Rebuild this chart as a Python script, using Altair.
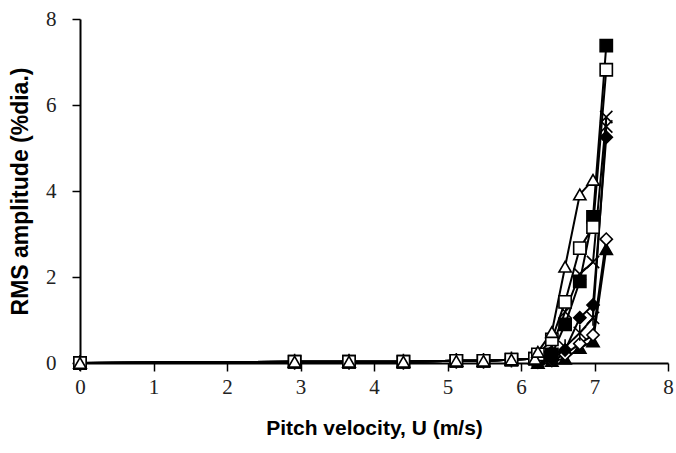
import altair as alt
import pandas as pd

# Shared low-speed test points
x_low = [0, 2.92, 3.66, 4.40, 5.12, 5.49, 5.87, 6.19]
y_low = [0.0, 0.03, 0.03, 0.03, 0.05, 0.05, 0.08, 0.10]

# High-speed points
x_high = [6.23, 6.42, 6.60, 6.80, 6.98, 7.16]

series_names = ["tri_filled", "dia_open", "star", "dia_filled", "cross_x", "sq_filled", "sq_open", "tri_open"]

y_tri_filled = [0.00, 0.05, 0.10, 0.35, 0.50, 2.65]
y_dia_open = [0.02, 0.06, 0.20, 0.45, 0.65, 2.88]
y_star = [0.05, 0.15, 0.37, 0.70, 1.05, 5.50]
y_dia_filled = [0.05, 0.10, 0.30, 1.05, 1.35, 5.25]
y_cross_x = [0.15, 0.38, 1.19, 2.07, 2.35, 5.72]
y_sq_filled = [0.10, 0.20, 0.90, 1.90, 3.40, 7.38]
y_sq_open = [0.20, 0.55, 1.42, 2.67, 3.16, 6.82]
y_tri_open = [0.26, 0.72, 2.24, 3.92, 4.26]

high_values = {
    "tri_filled": y_tri_filled,
    "dia_open": y_dia_open,
    "star": y_star,
    "dia_filled": y_dia_filled,
    "cross_x": y_cross_x,
    "sq_filled": y_sq_filled,
    "sq_open": y_sq_open,
    "tri_open": y_tri_open,
}

rows = []
for order, name in enumerate(series_names):
    for xv, yv in zip(x_low, y_low):
        rows.append({"series": name, "x": xv, "y": yv, "ord": order})
    for xv, yv in zip(x_high, high_values[name]):
        rows.append({"series": name, "x": xv, "y": yv, "ord": order})
df = pd.DataFrame(rows)

X_PATH = "M-1,-1L1,1M-1,1L1,-1"
STAR_PATH = "M-1,-1L1,1M-1,1L1,-1M0,-1.3L0,1.3"

shape_range = ["triangle-up", "diamond", STAR_PATH, "diamond", X_PATH, "square", "square", "triangle-up"]
fill_range = ["black", "white", "black", "black", "black", "black", "white", "white"]
size_range = [150, 150, 190, 150, 190, 100, 100, 150]

xscale = alt.Scale(domain=[0, 8], nice=False)
yscale = alt.Scale(domain=[0, 8], nice=False)

base = alt.Chart(df)

lines = base.mark_line(color="black", strokeWidth=2, clip=False).encode(
    x=alt.X("x:Q", scale=xscale),
    y=alt.Y("y:Q", scale=yscale),
    detail="series:N",
    order="x:Q",
)

points = base.mark_point(filled=True, stroke="black", strokeWidth=1.6, opacity=1, clip=False).encode(
    x=alt.X(
        "x:Q",
        scale=xscale,
        axis=alt.Axis(
            values=[0, 1, 2, 3, 4, 5, 6, 7, 8],
            format="d",
            labelFlush=False,
            title="Pitch velocity, U (m/s)",
            grid=False,
            tickSize=8,
            labelPadding=5,
            titlePadding=20,
        ),
    ),
    y=alt.Y(
        "y:Q",
        scale=yscale,
        axis=alt.Axis(
            values=[0, 2, 4, 6, 8],
            format="d",
            labelFlush=False,
            title="RMS amplitude (%dia.)",
            grid=False,
            tickSize=8,
            labelPadding=16,
            titleX=-48,
            titleY=172,
        ),
    ),
    shape=alt.Shape("series:N", scale=alt.Scale(domain=series_names, range=shape_range), legend=None),
    fill=alt.Fill("series:N", scale=alt.Scale(domain=series_names, range=fill_range), legend=None),
    size=alt.Size("series:N", scale=alt.Scale(domain=series_names, range=size_range), legend=None),
    order="ord:Q",
)

chart = (
    alt.layer(lines, points)
    .properties(
        width=588,
        height=344,
        autosize=alt.AutoSizeParams(type="none"),
        padding={"left": 80, "top": 19, "right": 8, "bottom": 90},
        background="white",
    )
    .configure_view(stroke=None)
    .configure_axis(
        domainColor="black",
        domainWidth=2,
        tickColor="black",
        tickWidth=1.5,
        labelFont="Liberation Serif",
        labelFontSize=21,
        labelColor="#222222",
        titleFont="Liberation Sans",
        titleFontWeight="bold",
        titleFontSize=21,
        titleColor="black",
    )
    .configure_axisY(titleFontSize=23)
)

chart.save("out.html", embed_options={"renderer": "svg", "actions": False})
